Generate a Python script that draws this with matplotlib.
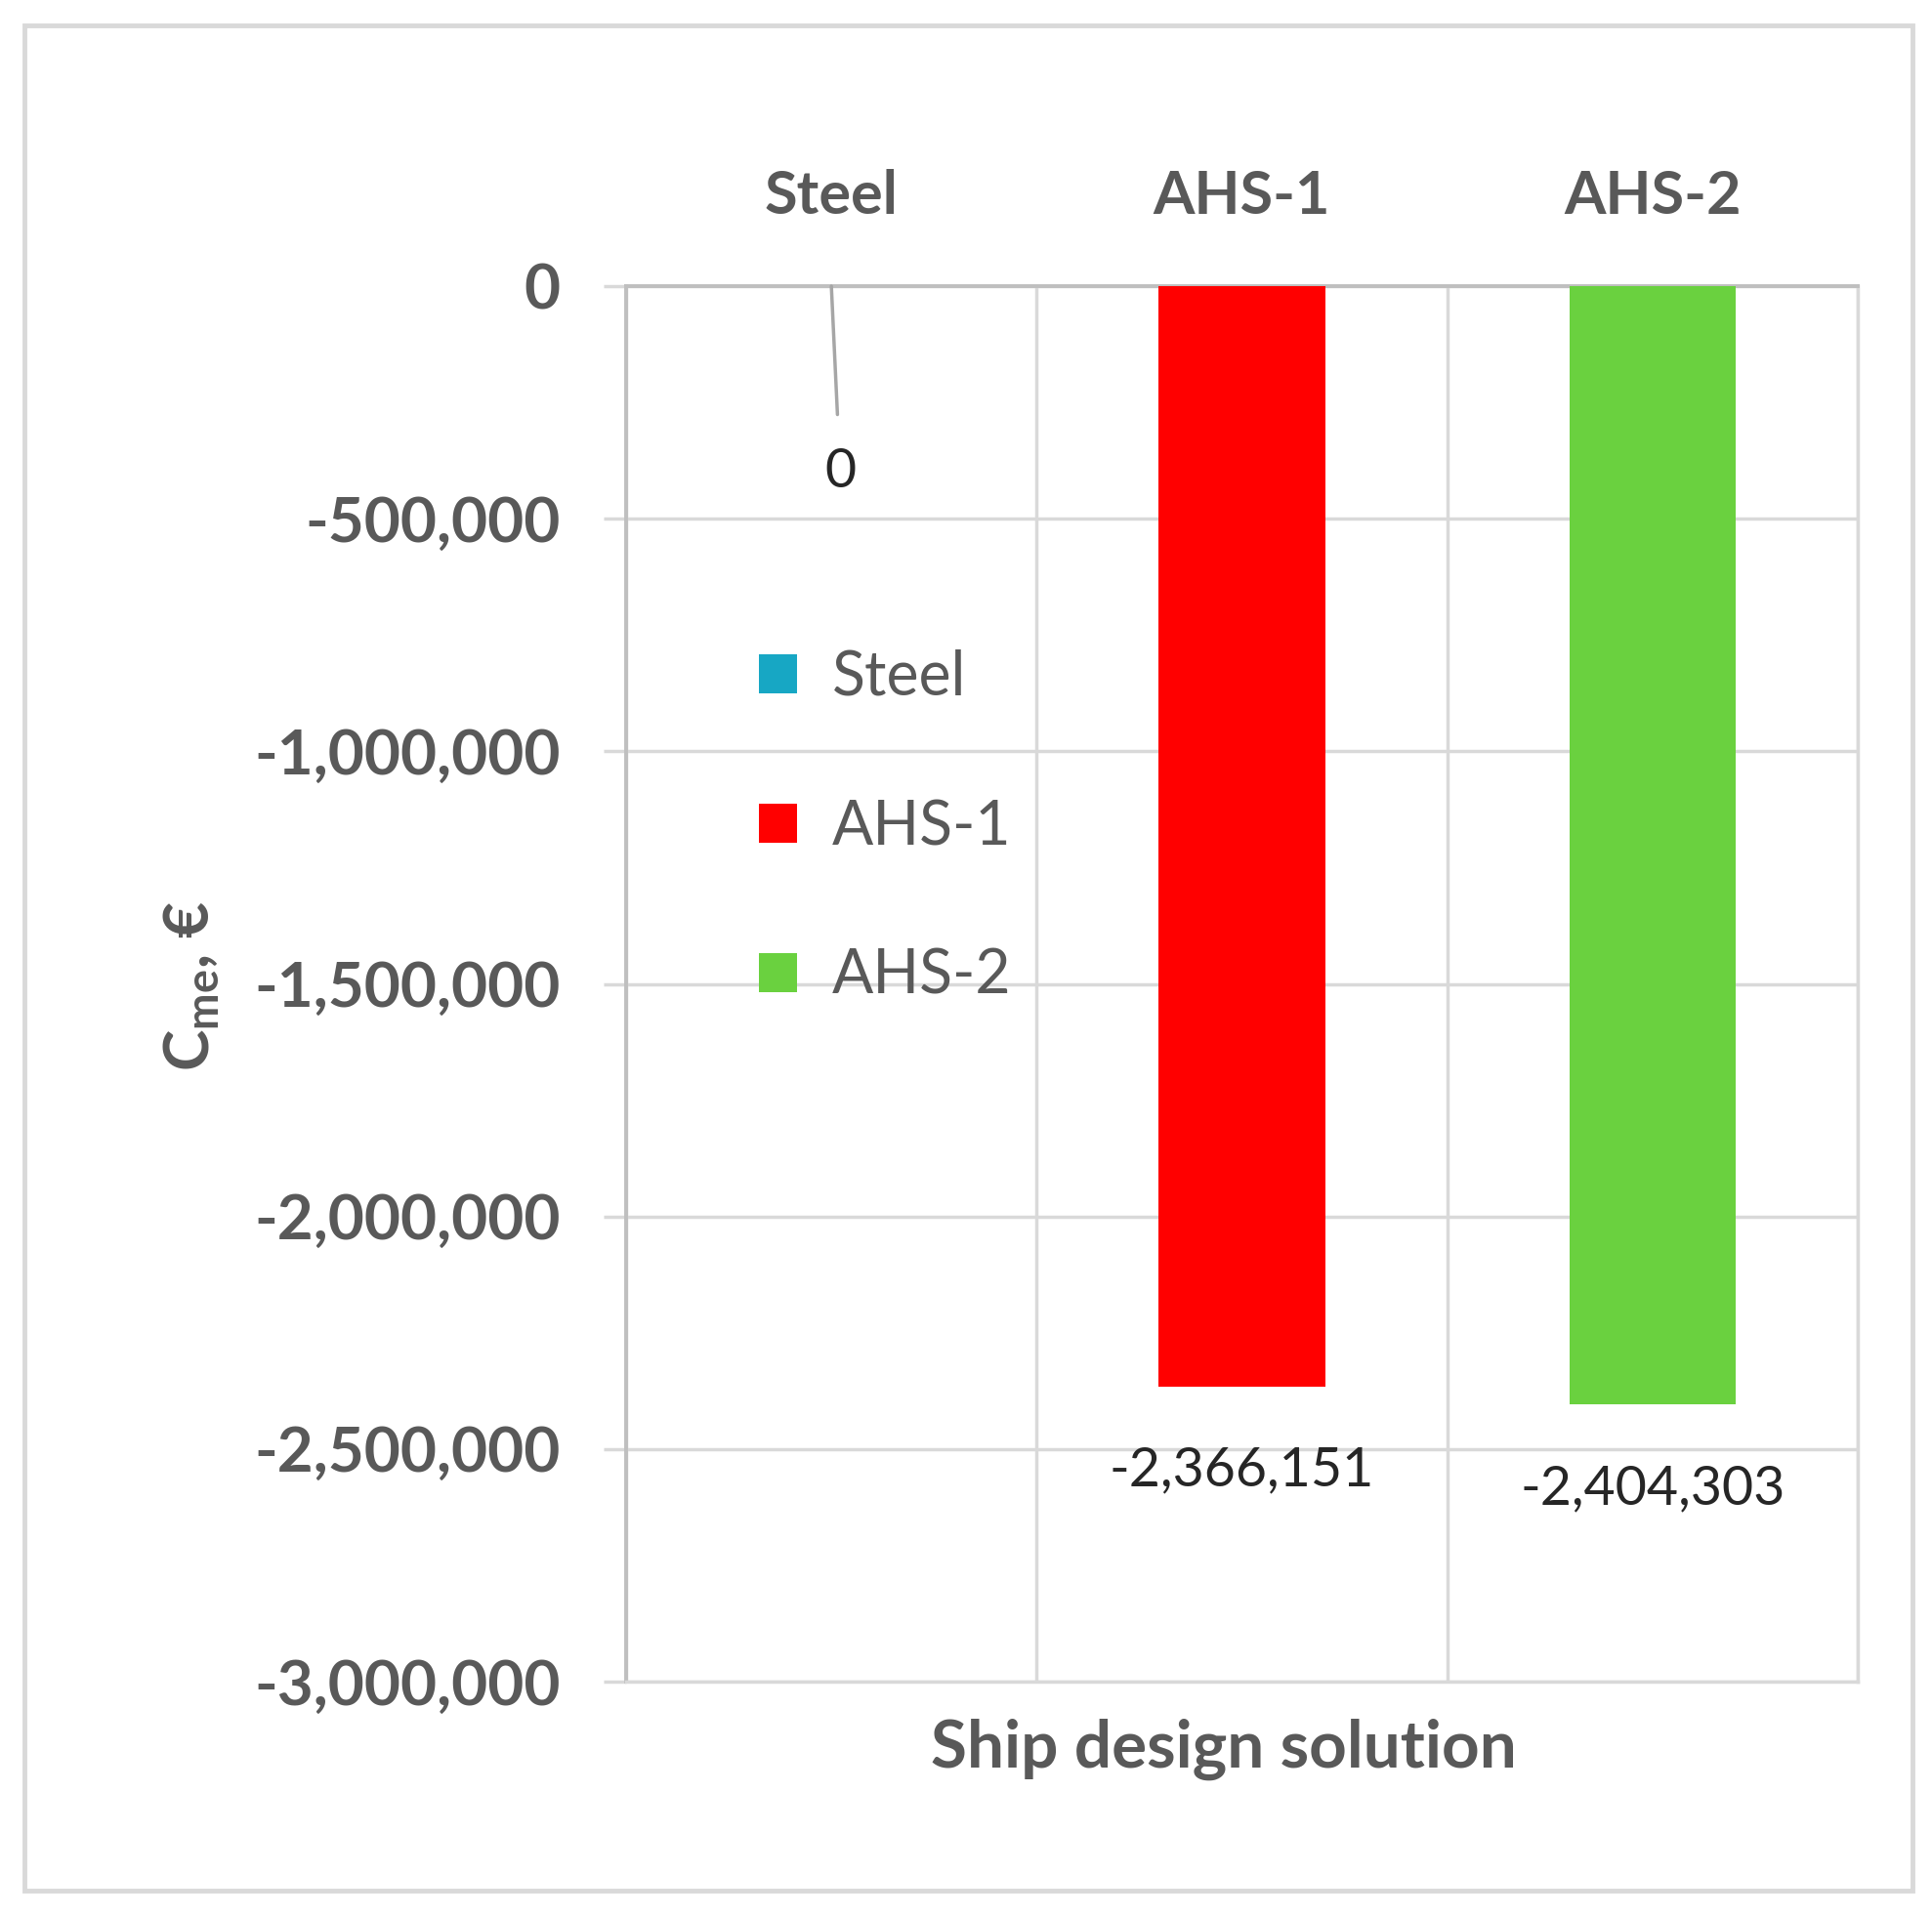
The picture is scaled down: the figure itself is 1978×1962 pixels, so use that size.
import matplotlib
matplotlib.use("Agg")
import matplotlib.pyplot as plt
from matplotlib.patches import Rectangle
from matplotlib.ticker import FuncFormatter, MultipleLocator

categories = ["Steel", "AHS-1", "AHS-2"]
values = [0, -2366151, -2404303]
bar_colors = ["#17A7C4", "#FF0000", "#6AD13F"]
x_label = "Ship design solution"
y_label = r"C$_{\mathregular{me}}$, €"

plt.rcParams['font.family'] = ['Lato', 'DejaVu Sans']
plt.rcParams['mathtext.fontset'] = 'custom'
plt.rcParams['mathtext.rm'] = 'Lato'

GRID = "#D9D9D9"
AXIS = "#BFBFBF"
TEXT = "#595959"

fig = plt.figure(figsize=(19.78, 19.62), dpi=100)
ax = fig.add_axes([0.32406, 0.12232, 0.63751, 0.72834])

x = list(range(len(categories)))
ax.bar(x, values, width=0.405, color=bar_colors, label=categories, zorder=3)

ax.set_xlim(-0.5, len(categories) - 0.5)
ax.set_ylim(-3000000, 0)
ax.yaxis.set_major_locator(MultipleLocator(500000))
ax.yaxis.set_major_formatter(FuncFormatter(lambda v, p: f"{v:,.0f}"))

# category labels on top, no tick marks
ax.xaxis.tick_top()
ax.set_xticks(x)
ax.set_xticklabels(categories)
ax.set_xticks([-0.5, 0.5, 1.5, 2.5], minor=True)
ax.tick_params(axis='x', which='both', length=0, pad=46,
               labelsize=44, labelcolor=TEXT)
for lab in ax.get_xticklabels():
    lab.set_fontweight('bold')

ax.tick_params(axis='y', length=16.5, width=2.5, color=GRID, pad=32,
               labelsize=46, labelcolor=TEXT)
for lab in ax.get_yticklabels():
    lab.set_fontweight('bold')

ax.set_axisbelow(True)
ax.grid(axis='y', color=GRID, linewidth=2.5)
ax.grid(axis='x', which='minor', color=GRID, linewidth=2.5)
for side in ['right', 'bottom']:
    ax.spines[side].set_color(GRID)
    ax.spines[side].set_linewidth(2.5)
for side in ['left', 'top']:
    ax.spines[side].set_color(AXIS)
    ax.spines[side].set_linewidth(2.8)

# data labels
for xi, v in zip(x, values):
    if v == 0:
        ax.annotate(f"{v:,.0f}", xy=(xi, v), xytext=(6.5, -137),
                    textcoords='offset points', ha='center', va='center',
                    fontsize=40, color='#262626',
                    arrowprops=dict(arrowstyle='-', color='#A6A6A6', lw=2.5,
                                    shrinkA=22, shrinkB=0))
    else:
        ax.annotate(f"{v:,.0f}", xy=(xi, v), xytext=(0, -62),
                    textcoords='offset points', ha='center', va='center',
                    fontsize=40, color='#262626')

ax.legend(loc='upper left', bbox_to_anchor=(777 / 1978, 1 - 665 / 1962),
          bbox_transform=fig.transFigure, frameon=False, fontsize=45,
          handlelength=0.62, handleheight=0.62, handletextpad=0.58,
          labelspacing=1.52, borderpad=0, borderaxespad=0, labelcolor=TEXT)

fig.text(1253 / 1978, 1 - 1791 / 1962, x_label, ha='center', va='center',
         fontsize=48.5, fontweight='bold', color=TEXT)
fig.text(196 / 1978, 1 - 1010 / 1962, y_label, ha='center', va='center',
         rotation=90, fontsize=46, fontweight='bold', color=TEXT)

fig.patches.append(Rectangle((25 / 1978, 26 / 1962), 1933 / 1978, 1910 / 1962,
                             transform=fig.transFigure, fill=False,
                             edgecolor=GRID, linewidth=3.5))

fig.savefig("out.png", dpi=100, facecolor='white')
